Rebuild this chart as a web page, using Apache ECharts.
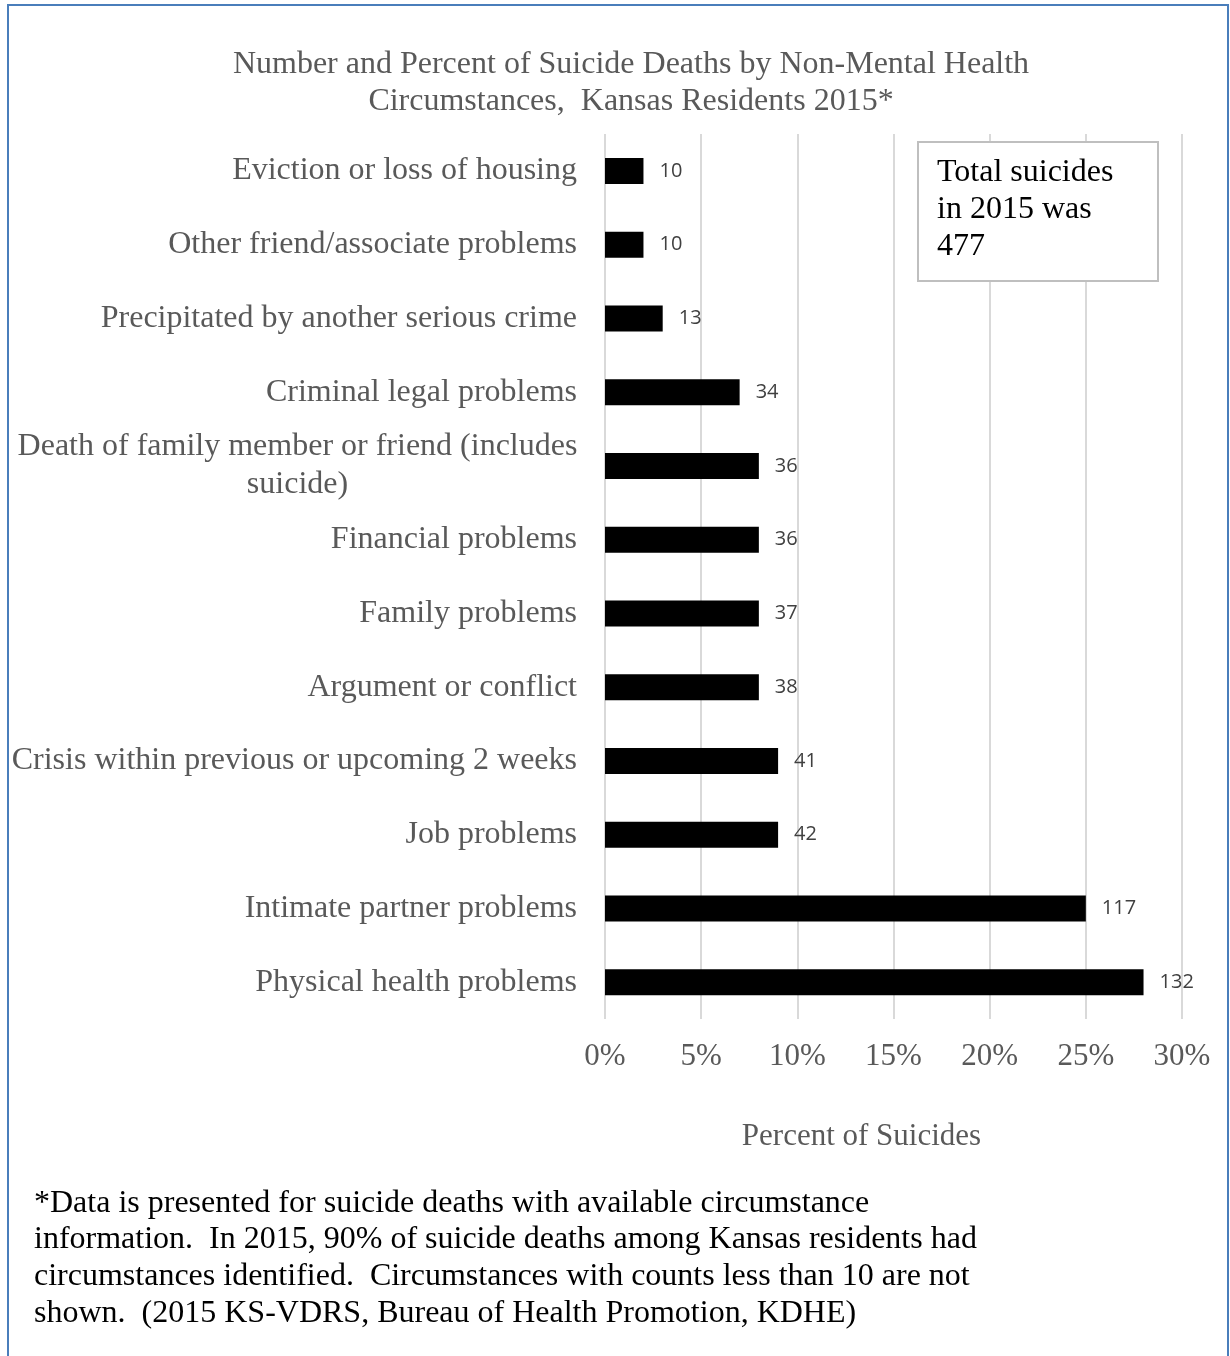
<!DOCTYPE html>
<html>
<head>
<meta charset="utf-8">
<script src="https://cdn.jsdelivr.net/npm/echarts@6/dist/echarts.min.js"></script>
<style>
html,body{margin:0;padding:0;background:#fff;}
#c{width:1230px;height:1356px;}
</style>
</head>
<body>
<div id="c"></div>
<script>
var categories = [
  "Eviction or loss of housing",
  "Other friend/associate problems",
  "Precipitated by another serious crime",
  "Criminal legal problems",
  "Death of family member or friend (includes suicide)",
  "Financial problems",
  "Family problems",
  "Argument or conflict",
  "Crisis within previous or upcoming 2 weeks",
  "Job problems",
  "Intimate partner problems",
  "Physical health problems"
];
var percents = [2, 2, 3, 7, 8, 8, 8, 8, 9, 9, 25, 28];
var counts = [10, 10, 13, 34, 36, 36, 37, 38, 41, 42, 117, 132];
var xTicks = [0, 5, 10, 15, 20, 25, 30];

var serif = '"Liberation Serif","Times New Roman",serif';
var chart = echarts.init(document.getElementById('c'), null, {renderer: 'canvas'});
var data = percents.map(function (p, i) { return {value: p, count: counts[i]}; });

function wrap(s, maxChars) {
  var words = s.split(' '), lines = [], cur = '';
  words.forEach(function (w) {
    var t = cur ? cur + ' ' + w : w;
    if (t.length > maxChars && cur) { lines.push(cur); cur = w; } else { cur = t; }
  });
  if (cur) lines.push(cur);
  if (lines.length === 1) return lines[0];
  return lines.map(function (l) { return '{w|' + l + '}'; }).join('\n');
}

chart.setOption({
  animation: false,
  backgroundColor: '#fff',
  title: {
    text: 'Number and Percent of Suicide Deaths by Non-Mental Health\nCircumstances,  Kansas Residents 2015*',
    left: 626, top: 41, textAlign: 'center',
    textStyle: {fontFamily: serif, fontSize: 32, fontWeight: 'normal', color: '#595959', lineHeight: 37}
  },
  grid: {left: 605, right: 48, top: 134, bottom: 337, containLabel: false},
  xAxis: {
    type: 'value', min: xTicks[0], max: xTicks[xTicks.length - 1], interval: 5,
    axisLine: {show: false}, axisTick: {show: false},
    splitLine: {show: true, lineStyle: {color: '#d9d9d9', width: 2}},
    axisLabel: {formatter: '{value}%', fontFamily: serif, fontSize: 31, color: '#595959', margin: 22},
    name: 'Percent of Suicides', nameLocation: 'middle', nameGap: 102,
    nameTextStyle: {fontFamily: serif, fontSize: 31, color: '#595959', padding: [0, 64, 0, 0]}
  },
  yAxis: {
    type: 'category', data: categories, inverse: true,
    axisLine: {show: false}, axisTick: {show: false},
    axisLabel: {fontFamily: serif, fontSize: 32, color: '#595959', margin: 28,
      lineHeight: 38, align: 'right',
      formatter: function (v) { return wrap(v, 45); },
      rich: {w: {fontFamily: serif, fontSize: 32, color: '#595959', lineHeight: 38, width: 559, align: 'center'}}}
  },
  series: [{
    type: 'bar', data: data, barWidth: 26,
    itemStyle: {color: '#000'},
    label: {show: true, position: 'right', distance: 16,
      formatter: function (p) { return p.data.count; },
      fontFamily: '"Open Sans","Noto Sans",sans-serif', fontSize: 20, color: '#404040'}
  }],
  graphic: [
    {type: 'rect', shape: {x: 8, y: 5, width: 1220, height: 1360},
      style: {fill: 'none', stroke: '#4a7ebb', lineWidth: 2}, z: 100},
    {type: 'rect', shape: {x: 918, y: 142, width: 240, height: 139},
      style: {fill: '#fff', stroke: '#bfbfbf', lineWidth: 2}, z: 50},
    {type: 'text', left: 937, top: 154, z: 51,
      style: {text: 'Total suicides\nin 2015 was\n477', fontFamily: serif, fontSize: 32, fill: '#000', lineHeight: 37}},
    {type: 'text', left: 34, top: 1185, z: 51,
      style: {text: '*Data is presented for suicide deaths with available circumstance\ninformation.  In 2015, 90% of suicide deaths among Kansas residents had\ncircumstances identified.  Circumstances with counts less than 10 are not\nshown.  (2015 KS-VDRS, Bureau of Health Promotion, KDHE)',
        fontFamily: serif, fontSize: 32, fill: '#000', lineHeight: 36.7}}
  ]
});
</script>
</body>
</html>
